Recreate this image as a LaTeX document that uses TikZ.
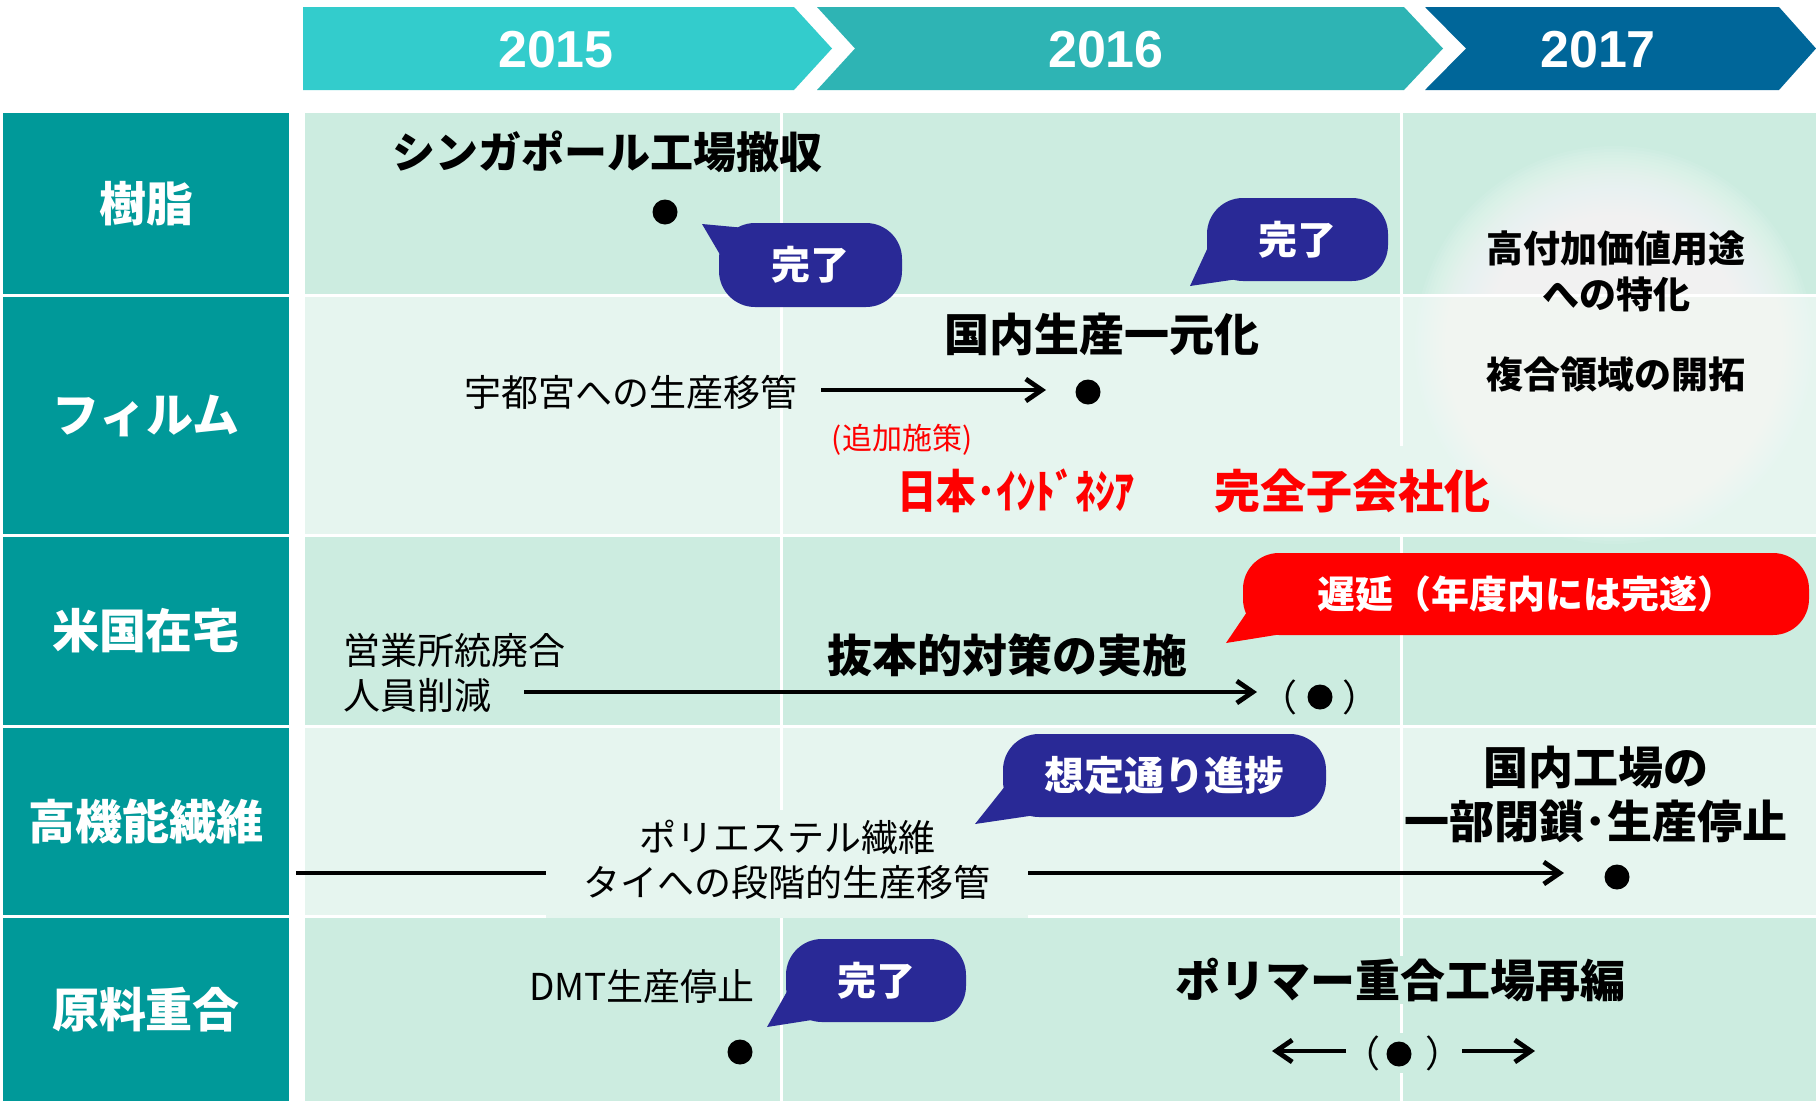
\documentclass[tikz,border=0pt]{standalone}
\usepackage{fontspec}
\setmainfont{Noto Sans CJK JP}
\newfontfamily\yearfont{Liberation Sans}
\usetikzlibrary{arrows.meta}
\definecolor{teal1}{RGB}{0,153,153}
\definecolor{yr1}{RGB}{51,204,204}
\definecolor{yr2}{RGB}{46,180,180}
\definecolor{yr3}{RGB}{0,102,153}
\definecolor{mintA}{RGB}{204,236,224}
\definecolor{mintB}{RGB}{230,245,239}
\definecolor{navy1}{RGB}{41,41,150}
\definecolor{red1}{RGB}{255,0,0}
\newcommand\myfs[2]{\fontsize{#1}{#2}\selectfont}
\tikzset{
  lbl/.style={fill=teal1, text=white, font=\bfseries\myfs{47}{52}, inner sep=0pt, minimum width=286pt},
  yr/.style={text=white, font=\yearfont\bfseries\myfs{52}{56}, inner sep=0pt},
  ttl/.style={font=\bfseries\myfs{45}{54}, inner sep=2pt},
  txt/.style={font=\myfs{37}{45}, inner sep=2pt},
  gtxt/.style={font=\bfseries\myfs{37}{45}, inner sep=0pt},
  rtxt/.style={font=\bfseries\myfs{46}{50}, text=red1, inner sep=0pt},
  bdot/.style={circle, fill=black, inner sep=0pt, minimum size=25pt},
  bub/.style={rounded corners=36pt, text=white, font=\bfseries\myfs{39}{44}, inner sep=0pt},
  arr/.style={line width=4.8pt, -{Straight Barb[length=16pt,width=22pt]}},
}
\begin{document}
\begin{tikzpicture}[x=1pt,y=-1pt]
\useasboundingbox (0,0) rectangle (1816,1101);
\fill[white] (0,0) rectangle (1816,1101);
% header chevrons
\fill[yr1] (303,7) -- (794,7) -- (832,48.5) -- (794,90) -- (303,90) -- cycle;
\fill[yr2] (817,7) -- (1404,7) -- (1443,48.5) -- (1404,90) -- (817,90) -- (855,48.5) -- cycle;
\fill[yr3] (1425,7) -- (1779,7) -- (1816,48.5) -- (1779,90) -- (1425,90) -- (1466,48.5) -- cycle;
\node[yr] (y15) at (556,49.5) {2015};
\node[yr] (y16) at (1106,49.5) {2016};
\node[yr] (y17) at (1598,49.5) {2017};
% row labels
\node[lbl, minimum height=181pt] (l1) at (146,203.5) {樹脂};
\node[lbl, minimum height=237pt] (l2) at (146,415.5) {フィルム};
\node[lbl, minimum height=188pt] (l3) at (146,631) {米国在宅};
\node[lbl, minimum height=187pt] (l4) at (146,821.5) {高機能繊維};
\node[lbl, minimum height=183pt] (l5) at (146,1009.5) {原料重合};
% row backgrounds
\fill[mintA] (305,113) rectangle (1816,294);
\fill[mintB] (305,297) rectangle (1816,534);
\fill[mintA] (305,537) rectangle (1816,725);
\fill[mintB] (305,728) rectangle (1816,915);
\fill[mintA] (305,918) rectangle (1816,1101);
\draw[white, line width=3pt] (781,113) -- (781,1101);
\draw[white, line width=3pt] (1401,113) -- (1401,1101);
% boxes covering grid lines
\fill[mintB] (546,810) rectangle (1028,918);
\fill[mintB] (895,446) rectangle (1498,534);
\node[ttl, fill=mintA] (t5) at (1400,980) {ポリマー重合工場再編};
\node[txt, fill=mintA] (p5) at (1403,1053) {（\hspace{1.2em}）};
% glow
\foreach \r in {100,103,...,199} \fill[white, opacity=0.07] (1614,345) circle (\r);
\node[gtxt] (g1) at (1616,249) {高付加価値用途};
\node[gtxt] (g2) at (1616,294) {への特化};
\node[gtxt] (g3) at (1616,374) {複合領域の開拓};
% row 1
\node[ttl, font=\bfseries\myfs{43}{50}] (t1) at (607,152) {シンガポール工場撤収};
\node[bdot] (d1) at (665,212) {};
\node[bub, fill=navy1, minimum width=183pt, minimum height=84pt] (bub1) at (810.5,265) {完了};
\coordinate (bub1tip) at (702,224);
\fill[navy1] (bub1tip) -- (745,228) -- (722,258) -- cycle;
\node[bub, fill=navy1, minimum width=181pt, minimum height=83pt] (bub2) at (1297.5,239.5) {完了};
\coordinate (bub2tip) at (1190,286);
\fill[navy1] (bub2tip) -- (1209,245) -- (1238,279) -- cycle;
% row 2
\node[ttl] (t2) at (1102,334) {国内生産一元化};
\node[txt] (s2) at (631,392) {宇都宮への生産移管};
\coordinate (a2s) at (821,390);
\coordinate (a2e) at (1046,390);
\draw[arr] (a2s) -- (a2e);
\node[bdot] (d2) at (1088,392) {};
\node[font=\myfs{30}{32}, text=red1, inner sep=0pt] (add) at (902,440) {(追加施策)};
\node[rtxt] (jp1) at (1016,491) {\scalebox{0.86}[1]{日本･ｲﾝﾄﾞﾈｼｱ}};
\node[rtxt] (jp2) at (1352,491) {完全子会社化};
% row 3
\node[txt, align=left, anchor=west] (s3) at (341,672.5) {営業所統廃合\\人員削減};
\coordinate (a3s) at (524,692);
\coordinate (a3e) at (1257,692);
\draw[arr] (a3s) -- (a3e);
\node[ttl] (t3) at (1007,655) {抜本的対策の実施};
\node[txt] (p3) at (1320,697) {（\hspace{1.2em}）};
\node[bdot] (d3) at (1320,697) {};
\node[bub, fill=red1, minimum width=566pt, minimum height=82pt, font=\bfseries\myfs{38}{44}] (bub3) at (1526,594) {遅延（年度内には完遂）};
\coordinate (bub3tip) at (1226,643);
\fill[red1] (bub3tip) -- (1247,612) -- (1282,634) -- cycle;
% row 4
\node[txt, align=center] (s4) at (787,859.5) {ポリエステル繊維\\タイへの段階的生産移管};
\coordinate (l4s) at (296,873);
\coordinate (l4e) at (546,873);
\draw[line width=4.8pt] (l4s) -- (l4e);
\coordinate (a4s) at (1028,873);
\coordinate (a4e) at (1564,873);
\draw[arr] (a4s) -- (a4e);
\node[bdot] (d4) at (1617,877) {};
\node[ttl, align=center] (t4) at (1596,794) {国内工場の\\一部閉鎖･生産停止};
\node[bub, fill=navy1, minimum width=323pt, minimum height=83pt, font=\bfseries\myfs{40}{44}] (bub4) at (1164.5,775.5) {想定通り進捗};
\coordinate (bub4tip) at (975,824);
\fill[navy1] (bub4tip) -- (1006,785) -- (1036,815) -- cycle;
% row 5
\node[txt] (s5) at (642,986) {DMT生産停止};
\node[bdot] (d5) at (740,1052) {};
\node[bub, fill=navy1, minimum width=180pt, minimum height=83pt] (bub5) at (876,980.5) {完了};
\coordinate (bub5tip) at (767,1027);
\fill[navy1] (bub5tip) -- (789,988) -- (818,1019) -- cycle;
\node[bdot] (d6) at (1399,1054) {};
\coordinate (a5ls) at (1346,1051);
\coordinate (a5le) at (1272,1051);
\coordinate (a5rs) at (1462,1051);
\coordinate (a5re) at (1535,1051);
\draw[arr] (a5ls) -- (a5le);
\draw[arr] (a5rs) -- (a5re);
\end{tikzpicture}
\end{document}
